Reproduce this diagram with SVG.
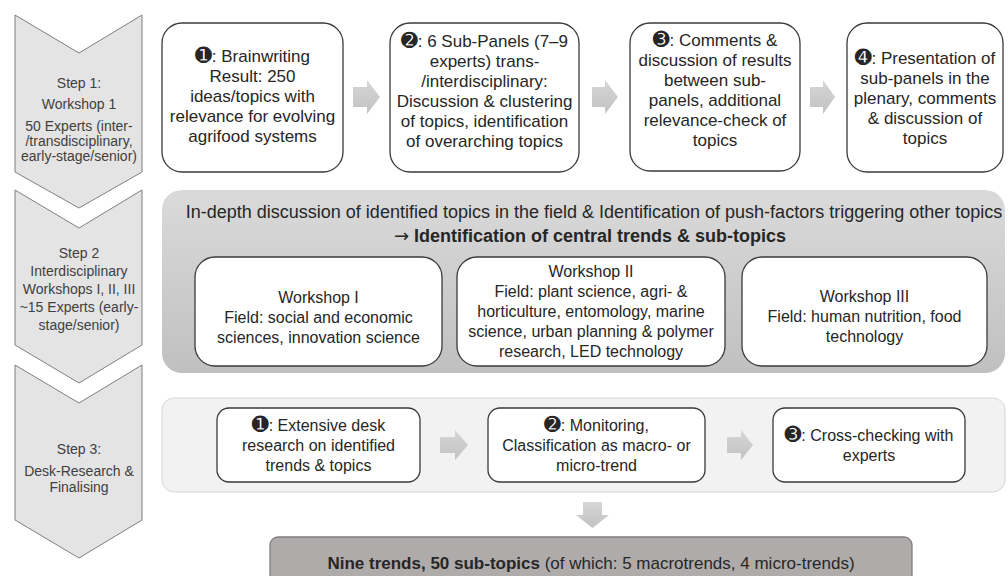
<svg xmlns="http://www.w3.org/2000/svg" width="1008" height="576" viewBox="0 0 1008 576">
<defs>
<style>
.chev{fill:#e4e4e4;stroke:#7f7f7f;stroke-width:1}
.box{fill:#ffffff;stroke:#3a3a3a;stroke-width:1.3}
.arr{fill:url(#ag);stroke:none}
.t{font-family:"Liberation Sans",Arial,sans-serif;fill:#262626;text-anchor:middle}
.c{font-size:14px;fill:#404040}
.b17{font-size:17px}
.b16{font-size:16px}
.num{font-family:"DejaVu Sans",sans-serif;font-size:20px}
.bold{font-weight:bold}
.sym{font-family:"DejaVu Sans",sans-serif;font-size:18px;font-weight:normal}
</style>
<linearGradient id="ag" x1="0" y1="0" x2="0" y2="1">
<stop offset="0" stop-color="#d6d6d6"/>
<stop offset="1" stop-color="#c2c2c2"/>
</linearGradient>
<linearGradient id="pg" x1="0" y1="0" x2="0" y2="1">
<stop offset="0" stop-color="#dadada"/>
<stop offset="1" stop-color="#c0c0c0"/>
</linearGradient>
</defs>
<rect width="1008" height="576" fill="#ffffff"/>

<g id="step1">
<polygon class="chev" points="15,15 79,53 142,15 142,172 79,208 15,172"/>
<text class="t c" x="79" y="88">Step 1:</text>
<text class="t c" x="79" y="109">Workshop 1</text>
<text class="t c" x="79" y="131">50 Experts (inter-</text>
<text class="t c" x="79" y="146">/transdisciplinary,</text>
<text class="t c" x="79" y="161">early-stage/senior)</text>
</g>
<g id="step2">
<polygon class="chev" points="15,190 79,228 142,190 142,345 79,383 15,345"/>
<text class="t c" x="79" y="258">Step 2</text>
<text class="t c" x="79" y="276">Interdisciplinary</text>
<text class="t c" x="79" y="294">Workshops I, II, III</text>
<text class="t c" x="79" y="312">~15 Experts (early-</text>
<text class="t c" x="79" y="330">stage/senior)</text>
</g>
<g id="step3">
<polygon class="chev" points="15,365 79,403 142,365 142,520 79,558 15,520"/>
<text class="t c" x="79" y="454">Step 3:</text>
<text class="t c" x="79" y="476">Desk-Research &amp;</text>
<text class="t c" x="79" y="492">Finalising</text>
</g>

<g id="ws1-1">
<rect class="box" x="162" y="23" width="181" height="149" rx="20"/>
<text class="t b17" x="252.5" y="62"><tspan class="num">➊</tspan>: Brainwriting</text>
<text class="t b17" x="252.5" y="82">Result: 250</text>
<text class="t b17" x="252.5" y="102">ideas/topics with</text>
<text class="t b17" x="252.5" y="122">relevance for evolving</text>
<text class="t b17" x="252.5" y="142">agrifood systems</text>
</g>
<g id="ws1-2">
<rect class="box" x="390" y="23" width="189" height="149" rx="20"/>
<text class="t b17" x="484.5" y="47"><tspan class="num">➋</tspan>: 6 Sub-Panels (7–9</text>
<text class="t b17" x="484.5" y="67">experts) trans-</text>
<text class="t b17" x="484.5" y="87">/interdisciplinary:</text>
<text class="t b17" x="484.5" y="107">Discussion &amp; clustering</text>
<text class="t b17" x="484.5" y="127">of topics, identification</text>
<text class="t b17" x="484.5" y="147">of overarching topics</text>
</g>
<g id="ws1-3">
<rect class="box" x="630" y="23" width="170" height="148" rx="20"/>
<text class="t b17" x="715" y="46"><tspan class="num">➌</tspan>: Comments &amp;</text>
<text class="t b17" x="715" y="66">discussion of results</text>
<text class="t b17" x="715" y="86">between sub-</text>
<text class="t b17" x="715" y="106">panels, additional</text>
<text class="t b17" x="715" y="126">relevance-check of</text>
<text class="t b17" x="715" y="146">topics</text>
</g>
<g id="ws1-4">
<rect class="box" x="847" y="23" width="156" height="149" rx="20"/>
<text class="t b17" x="925" y="64"><tspan class="num">➍</tspan>: Presentation of</text>
<text class="t b17" x="925" y="84">sub-panels in the</text>
<text class="t b17" x="925" y="104">plenary, comments</text>
<text class="t b17" x="925" y="124">&amp; discussion of</text>
<text class="t b17" x="925" y="144">topics</text>
</g>

<g id="step2-panel">
<rect x="162" y="190" width="843" height="183" rx="20" fill="url(#pg)"/>
<text class="t" x="594" y="218" font-size="18">In-depth discussion of identified topics in the field &amp; Identification of push-factors triggering other topics</text>
<text class="t" x="590" y="242" font-size="18"><tspan class="sym">→</tspan> <tspan class="bold">Identification of central trends &amp; sub-topics</tspan></text>
</g>
<g id="workshop-I">
<rect class="box" x="195" y="257" width="247" height="109" rx="20"/>
<text class="t b16" x="318.5" y="303">Workshop I</text>
<text class="t b16" x="318.5" y="323">Field: social and economic</text>
<text class="t b16" x="318.5" y="343">sciences, innovation science</text>
</g>
<g id="workshop-II">
<rect class="box" x="457" y="257" width="268" height="109" rx="20"/>
<text class="t b16" x="591" y="277">Workshop II</text>
<text class="t b16" x="591" y="297">Field: plant science, agri- &amp;</text>
<text class="t b16" x="591" y="317">horticulture, entomology, marine</text>
<text class="t b16" x="591" y="337">science, urban planning &amp; polymer</text>
<text class="t b16" x="591" y="357">research, LED technology</text>
</g>
<g id="workshop-III">
<rect class="box" x="742" y="257" width="245" height="109" rx="20"/>
<text class="t b16" x="864.5" y="302">Workshop III</text>
<text class="t b16" x="864.5" y="322">Field: human nutrition, food</text>
<text class="t b16" x="864.5" y="342">technology</text>
</g>

<g id="step3-panel">
<rect x="162" y="398" width="843" height="94" rx="12" fill="#f2f2f2" stroke="#d6d6d6" stroke-width="1"/>
</g>
<g id="desk-1">
<rect class="box" x="217" y="408" width="203" height="74" rx="12"/>
<text class="t b16" x="318.5" y="431"><tspan class="num" font-size="19">➊</tspan>: Extensive desk</text>
<text class="t b16" x="318.5" y="451">research on identified</text>
<text class="t b16" x="318.5" y="471">trends &amp; topics</text>
</g>
<g id="desk-2">
<rect class="box" x="488" y="408" width="217" height="74" rx="12"/>
<text class="t b16" x="596.5" y="431"><tspan class="num" font-size="19">➋</tspan>: Monitoring,</text>
<text class="t b16" x="596.5" y="451">Classification as macro- or</text>
<text class="t b16" x="596.5" y="471">micro-trend</text>
</g>
<g id="desk-3">
<rect class="box" x="773" y="408" width="192" height="74" rx="12"/>
<text class="t b16" x="869" y="441"><tspan class="num" font-size="19">➌</tspan>: Cross-checking with</text>
<text class="t b16" x="869" y="461">experts</text>
</g>

<g id="result">
<rect x="270" y="537" width="642" height="60" rx="8" fill="#afabab" stroke="#7f7f7f" stroke-width="1.3"/>
<text class="t b17" x="591" y="569"><tspan class="bold">Nine trends, 50 sub-topics</tspan> (of which: 5 macrotrends, 4 micro-trends)</text>
</g>

<g id="connectors">
<polygon class="arr" points="353,87 367,87 367,80 380,97 367,114 367,107 353,107"/>
<polygon class="arr" points="592,87 605,87 605,80 618,97 605,114 605,107 592,107"/>
<polygon class="arr" points="810,87 823,87 823,80 835,97 823,114 823,107 810,107"/>
<polygon class="arr" points="440,437 455,437 455,430 468,445 455,460 455,453 440,453"/>
<polygon class="arr" points="727,437 741,437 741,430 753,445 741,460 741,453 727,453"/>
<polygon class="arr" points="583,502 602,502 602,515 609,515 592.5,528 576,515 583,515"/>
</g>
</svg>
